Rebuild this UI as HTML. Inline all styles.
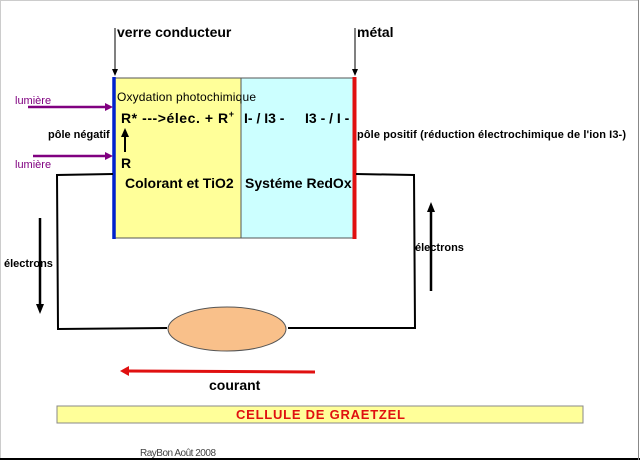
<!DOCTYPE html>
<html><head><meta charset="utf-8"><style>
html,body{margin:0;padding:0;background:#fff;}
svg{display:block;font-family:"Liberation Sans",Arial,sans-serif;}
</style></head><body>
<svg width="640" height="460" viewBox="0 0 640 460" xmlns="http://www.w3.org/2000/svg">
<rect x="0.5" y="0.5" width="638" height="458" fill="#fff" stroke="#ccc"/>
<line x1="0" y1="459" x2="640" y2="459" stroke="#000" stroke-width="2"/>
<line x1="638.5" y1="0" x2="638.5" y2="460" stroke="#888"/>
<rect x="113" y="78" width="128" height="160" fill="#ffff99" stroke="#555" stroke-width="1"/>
<rect x="241" y="78" width="114" height="160" fill="#ccffff" stroke="#555" stroke-width="1"/>
<line x1="114" y1="77" x2="114" y2="239" stroke="#0022cc" stroke-width="3.5"/>
<line x1="354.5" y1="77" x2="354.5" y2="239" stroke="#e01010" stroke-width="4"/>
<g stroke="#000" fill="none">
<line x1="115" y1="28" x2="115" y2="69" stroke-width="1"/>
<line x1="355" y1="28" x2="355" y2="69" stroke-width="1"/>
<polyline points="113,174 57,175 58,329 167,328" stroke-width="2"/>
<polyline points="288,328 415,328 414,175 356,174" stroke-width="2"/>
<line x1="40" y1="218" x2="40" y2="305" stroke-width="2.5"/>
<line x1="431" y1="212" x2="431" y2="291" stroke-width="2.5"/>
<line x1="125" y1="136" x2="125" y2="152" stroke-width="2"/>
</g>
<g fill="#000">
<polygon points="112,69 118,69 115,76"/>
<polygon points="352,69 358,69 355,76"/>
<polygon points="36,304 44,304 40,314"/>
<polygon points="427,212 435,212 431,202"/>
<polygon points="121,137 129,137 125,128"/>
</g>
<line x1="28" y1="107" x2="106" y2="107" stroke="#800080" stroke-width="2.5"/>
<polygon points="105,103 105,111 113,107" fill="#800080"/>
<line x1="33" y1="156" x2="106" y2="156" stroke="#800080" stroke-width="2.5"/>
<polygon points="105,152 105,160 113,156" fill="#800080"/>
<line x1="128" y1="371" x2="315" y2="372" stroke="#e01010" stroke-width="3"/>
<polygon points="129,366 129,376 120,371" fill="#e01010"/>
<ellipse cx="227" cy="329" rx="59" ry="22" fill="#f9c08a" stroke="#555" stroke-width="1"/>
<rect x="57" y="406" width="526" height="17" fill="#ffff99" stroke="#888"/>
<g font-weight="bold" fill="#000">
<text x="117" y="37" font-size="14">verre conducteur</text>
<text x="357" y="37" font-size="14">métal</text>
<text x="15" y="104" font-size="11" fill="#800080" font-weight="normal">lumière</text>
<text x="15" y="168" font-size="11" fill="#800080" font-weight="normal">lumière</text>
<text x="48" y="138" font-size="11">pôle négatif</text>
<text x="117" y="101" font-size="12" font-weight="normal" textLength="139">Oxydation photochimique</text>
<text x="121" y="123" font-size="14" textLength="113">R* ---&gt;élec. +  R<tspan font-size="9" dy="-6">+</tspan></text>
<text x="244" y="123" font-size="14">I- / I3 -</text>
<text x="305" y="123" font-size="14">I3 - / I -</text>
<text x="121" y="168" font-size="14">R</text>
<text x="125" y="188" font-size="14">Colorant et TiO2</text>
<text x="245" y="188" font-size="14">Systéme RedOx</text>
<text x="357" y="138" font-size="11" textLength="269">pôle positif (réduction électrochimique de l'ion I3-)</text>
<text x="4" y="267" font-size="11">électrons</text>
<text x="415" y="251" font-size="11">électrons</text>
<text x="209" y="390" font-size="14">courant</text>
<text x="236" y="419" font-size="13" fill="#e01010" textLength="169">CELLULE  DE  GRAETZEL</text>
</g>
<text x="140" y="456" font-size="10" fill="#444" textLength="76">RayBon Août 2008</text>
</svg>
</body></html>
